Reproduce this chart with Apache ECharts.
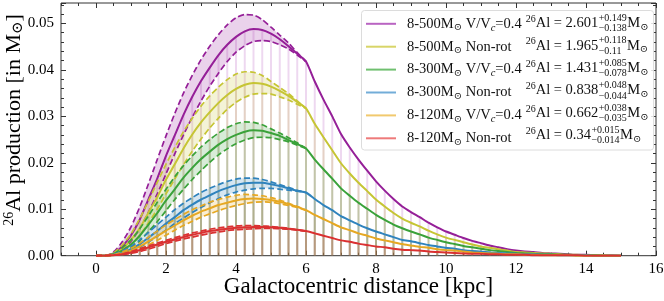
<!DOCTYPE html>
<html><head><meta charset="utf-8">
<script src="https://cdn.jsdelivr.net/npm/echarts@6/dist/echarts.min.js"></script>
<style>html,body{margin:0;padding:0;background:#fff}#c{width:664px;height:301px}</style>
</head><body><div id="c"></div>
<script>
// ---------- data ----------
const xs = [0,0.25,0.5,0.75,1,1.25,1.5,1.75,2,2.25,2.5,2.75,3,3.25,3.5,3.75,4,4.25,4.5,4.75,5,5.25,5.5,5.75,6,6.25,6.5,6.75,7,7.25,7.5,7.75,8,8.25,8.5,8.75,9,9.25,9.5,9.75,10,10.25,10.5,10.75,11,11.25,11.5,11.75,12,12.25,12.5,12.75,13,13.25,13.5,13.75,14,14.25,14.5,14.75,15];
const bandX = [0,0.25,0.5,0.75,1,1.25,1.5,1.75,2,2.25,2.5,2.75,3,3.25,3.5,3.75,4,4.25,4.5,4.75,5,5.25,5.5,5.75,6];

const names = ['8-500M⊙ V/Vc=0.4','8-500M⊙ Non-rot','8-300M⊙ V/Vc=0.4','8-300M⊙ Non-rot','8-120M⊙ V/Vc=0.4','8-120M⊙ Non-rot'];
const totals = ['2.601','1.965','1.431','0.838','0.662','0.34'];
const errPlus = ['+0.149','+0.118','+0.085','+0.048','+0.038','+0.015'];
const errMinus = ['−0.138','−0.11','−0.078','−0.044','−0.035','−0.014'];

const m500rot = [0,0,0.0005,0.002,0.0044,0.0078,0.0122,0.0166,0.0215,0.0259,0.0303,0.0342,0.0376,0.0405,0.0432,0.0454,0.0471,0.0483,0.0488,0.0486,0.0478,0.0466,0.0451,0.0435,0.0418,
 0.0375,0.0336,0.0300,0.0262,0.0233,0.0207,0.0183,0.0160,0.0140,0.0122,0.0106,0.0094,0.0083,0.0071,0.0061,0.0052,0.0045,0.0038,0.0032,0.0027,0.0022,0.0018,0.0014,0.0011,0.0009,0.0008,0.0006,0.0005,0.0004,0.0003,0.0002,0.0002,0.0001,0.0001,0.0001,0.0000];
const m500rotHi = [0,0,0.0008,0.003,0.0062,0.0105,0.0155,0.0207,0.0258,0.0306,0.035,0.0388,0.0422,0.0451,0.0476,0.0497,0.0512,0.0519,0.0518,0.0508,0.0492,0.0475,0.0458,0.0437,0.0418];
const m500rotLo = [0,0,0.0003,0.0013,0.0031,0.0058,0.0094,0.0133,0.0176,0.0219,0.026,0.0298,0.0333,0.0365,0.0393,0.0418,0.0438,0.0452,0.0461,0.0463,0.0461,0.0454,0.0445,0.0432,0.0418];

const m500non = [0,0,0.0004,0.0015,0.0034,0.0059,0.0093,0.0126,0.0164,0.0197,0.0231,0.0261,0.0287,0.0309,0.0329,0.0346,0.0359,0.0368,0.0372,0.0370,0.0364,0.0355,0.0344,0.0331,0.0317,
 0.0284,0.0255,0.0227,0.0199,0.0177,0.0157,0.0139,0.0121,0.0106,0.0092,0.008,0.0071,0.0063,0.0054,0.0046,0.0039,0.0034,0.0029,0.0024,0.002,0.0017,0.0014,0.0011,0.0008,0.0007,0.0006,0.0005,0.0004,0.0003,0.0002,0.0002,0.0001,0.0001,0.0001,0.0000,0.0000];
const m500nonHi = [0,0,0.0006,0.0023,0.0047,0.008,0.0118,0.0158,0.0197,0.0233,0.0267,0.0296,0.0322,0.0344,0.0363,0.0379,0.0391,0.0396,0.0395,0.0388,0.0375,0.0362,0.0349,0.0333,0.0317];
const m500nonLo = [0,0,0.0002,0.001,0.0023,0.0044,0.0071,0.01,0.0133,0.0165,0.0196,0.0225,0.0251,0.0275,0.0296,0.0315,0.033,0.0341,0.0348,0.0349,0.0348,0.0342,0.0335,0.0326,0.0317];

const m300rot = [0,0,0.0003,0.0011,0.0024,0.0043,0.0067,0.0092,0.0119,0.0143,0.0168,0.0189,0.0208,0.0224,0.0239,0.0251,0.026,0.0267,0.027,0.0269,0.0264,0.0258,0.0249,0.024,0.0231,
 0.0207,0.0186,0.0166,0.0145,0.0129,0.0114,0.0101,0.0088,0.0077,0.0067,0.0059,0.0052,0.0046,0.0039,0.0034,0.0029,0.0025,0.0021,0.0018,0.0015,0.0012,0.001,0.0008,0.0006,0.0005,0.0004,0.0003,0.0003,0.0002,0.0002,0.0001,0.0001,0.0001,0,0,0];
const m300rotHi = [0,0,0.0004,0.0017,0.0034,0.0058,0.0086,0.0115,0.0143,0.017,0.0194,0.0215,0.0234,0.025,0.0264,0.0276,0.0284,0.0288,0.0287,0.0282,0.0273,0.0264,0.0254,0.0243,0.0231];
const m300rotLo = [0,0,0.0002,0.0007,0.0017,0.0032,0.0052,0.0073,0.0097,0.0121,0.0143,0.0164,0.0183,0.0201,0.0217,0.023,0.0241,0.0249,0.0254,0.0255,0.0254,0.025,0.0245,0.0238,0.0231];

const m300non = [0,0,0.0002,0.0006,0.0014,0.0025,0.0039,0.0053,0.0069,0.0083,0.0098,0.011,0.0121,0.013,0.0139,0.0146,0.0152,0.0156,0.0157,0.0157,0.0154,0.015,0.0145,0.014,0.0136,
 0.0122,0.0109,0.0098,0.0085,0.0076,0.0067,0.0059,0.0052,0.0046,0.004,0.0034,0.0031,0.0027,0.0023,0.002,0.0017,0.0015,0.0012,0.001,0.0009,0.0007,0.0006,0.0005,0.0004,0.0003,0.0003,0.0002,0.0002,0.0001,0.0001,0.0001,0.0001,0,0,0,0];
const m300nonHi = [0,0,0.0003,0.001,0.002,0.0034,0.005,0.0067,0.0083,0.0099,0.0113,0.0125,0.0136,0.0145,0.0153,0.016,0.0165,0.0167,0.0167,0.0164,0.0159,0.0153,0.0147,0.0141,0.0136];
const m300nonLo = [0,0,0.0001,0.0004,0.001,0.0018,0.0029,0.0042,0.0055,0.0069,0.0081,0.0093,0.0104,0.0114,0.0123,0.0131,0.0137,0.0141,0.0144,0.0145,0.0145,0.0143,0.0141,0.0139,0.0136];

const m120rot = [0,0,0.0001,0.0005,0.0011,0.002,0.0031,0.0042,0.0054,0.0065,0.0076,0.0086,0.0095,0.0102,0.0109,0.0114,0.0119,0.0122,0.0123,0.0122,0.012,0.0116,0.0111,0.0105,0.0098,
 0.0088,0.0079,0.007,0.0061,0.0055,0.0048,0.0043,0.0037,0.0033,0.0029,0.0025,0.0022,0.0019,0.0017,0.0014,0.0012,0.0011,0.0009,0.0007,0.0006,0.0005,0.0004,0.0003,0.0003,0.0002,0.0002,0.0001,0.0001,0.0001,0.0001,0,0,0,0,0,0];
const m120rotHi = [0,0,0.0002,0.0008,0.0016,0.0027,0.004,0.0053,0.0066,0.0078,0.0089,0.0099,0.0107,0.0115,0.0121,0.0126,0.013,0.0132,0.0131,0.0129,0.0125,0.012,0.0113,0.0106,0.0098];
const m120rotLo = [0,0,0.0001,0.0003,0.0008,0.0014,0.0023,0.0033,0.0044,0.0055,0.0065,0.0074,0.0083,0.009,0.0097,0.0103,0.0108,0.0112,0.0115,0.0116,0.0115,0.0112,0.0108,0.0104,0.0098];

const m120non = [0,0,0.0001,0.0003,0.0007,0.0012,0.0018,0.0024,0.003,0.0035,0.004,0.0045,0.0049,0.0053,0.0056,0.0058,0.006,0.0061,0.0062,0.0062,0.0061,0.006,0.0058,0.0056,0.0053,
 0.0048,0.0043,0.0038,0.0033,0.003,0.0026,0.0023,0.002,0.0018,0.0015,0.0013,0.0012,0.0011,0.0009,0.0008,0.0007,0.0006,0.0005,0.0004,0.0004,0.0003,0.0003,0.0002,0.0002,0.0002,0.0001,0.0001,0.0001,0.0001,0.0001,0.0001,0,0,0,0,0];
const m120nonHi = [0,0,0.0001,0.0004,0.0009,0.0015,0.0021,0.0027,0.0033,0.0039,0.0044,0.0049,0.0053,0.0057,0.006,0.0062,0.0064,0.0065,0.0065,0.0064,0.0063,0.0061,0.0059,0.0056,0.0053];
const m120nonLo = [0,0,0.0001,0.0002,0.0005,0.0009,0.0014,0.002,0.0026,0.0031,0.0036,0.004,0.0044,0.0048,0.0051,0.0054,0.0056,0.0057,0.0058,0.0059,0.0059,0.0058,0.0057,0.0055,0.0053];

const xMajor = [0,2,4,6,8,10,12,14,16];

// ---------- styling ----------
const SERIF = "'Liberation Serif','DejaVu Serif',serif";
const lineCol  = ['#951f98','#c6c534','#3aa23a','#2f83bd','#e6a822','#da3131'];
const legCol   = ['#b964c2','#d8d568','#70c070','#72add8','#f1c96e','#ee7a7a'];
const stemCol  = ['rgba(170,60,180,0.20)','rgba(190,180,40,0.22)','rgba(60,150,60,0.20)','rgba(40,120,180,0.18)','rgba(220,150,30,0.20)','rgba(210,50,50,0.18)'];
const bandCol  = ['rgba(150,30,155,0.20)','rgba(200,195,50,0.20)','rgba(58,160,58,0.20)','rgba(47,131,189,0.20)','rgba(230,168,34,0.20)','rgba(218,49,49,0.20)'];

const solid = [m500rot,m500non,m300rot,m300non,m120rot,m120non];
const hi = [m500rotHi,m500nonHi,m300rotHi,m300nonHi,m120rotHi,m120nonHi];
const lo = [m500rotLo,m500nonLo,m300rotLo,m300nonLo,m120rotLo,m120nonLo];

const pair = (X, Y) => X.map((x, i) => [x, Y[i]]);

const series = [];
for (let s = 0; s < 6; s++) {
  series.push({
    type: 'custom', silent: true, clip: true,
    data: pair(xs, solid[s]),
    renderItem: (params, api) => {
      const a = api.coord([api.value(0), 0]);
      const b = api.coord([api.value(0), api.value(1)]);
      return {type: 'line', shape: {x1: a[0], y1: a[1], x2: b[0], y2: b[1]},
              style: {stroke: stemCol[s], lineWidth: 2}};
    }
  });
  series.push({
    type: 'custom', silent: true, clip: true,
    data: [[0, 0]],
    renderItem: (params, api) => {
      const pts = [];
      for (let i = 0; i < bandX.length; i++) pts.push(api.coord([bandX[i], hi[s][i]]));
      for (let i = bandX.length - 1; i >= 0; i--) pts.push(api.coord([bandX[i], lo[s][i]]));
      return {type: 'polygon', shape: {points: pts, smooth: 0}, style: {fill: bandCol[s]}};
    }
  });
  [hi[s], lo[s]].forEach(arr => series.push({
    type: 'line', data: pair(bandX, arr), showSymbol: false, symbol: 'none', smooth: 0.25,
    silent: true, lineStyle: {color: lineCol[s], width: 1.7, type: [6, 3]}
  }));
  series.push({
    type: 'line', name: names[s], data: pair(xs, solid[s]), showSymbol: false, symbol: 'none',
    smooth: 0.2, silent: true, color: lineCol[s], lineStyle: {color: lineCol[s], width: 2}
  });
}

const axisCol = '#333';
const fmtY = v => v.toFixed(2);
const xBase = {type: 'value', min: -1, max: 16, splitLine: {show: false}, axisLine: {show: false, onZero: false}};
const option = {
  animation: false,
  grid: {left: 61, right: 8, top: 3, bottom: 45.3, containLabel: false, outerBoundsMode: 'none',
         show: true, borderColor: axisCol, borderWidth: 1, backgroundColor: 'transparent'},
  xAxis: [
    Object.assign({}, xBase, {position: 'bottom',
      axisTick: {show: true, inside: true, length: 5, customValues: xMajor, lineStyle: {color: axisCol}},
      axisLabel: {customValues: xMajor, margin: 6, color: '#000', fontFamily: SERIF, fontSize: 15},
      name: 'Galactocentric distance [kpc]', nameLocation: 'middle', nameGap: 20, nameMoveOverlap: false,
      nameTextStyle: {fontFamily: SERIF, fontSize: 23, color: '#000', verticalAlign: 'top'}}),
    Object.assign({}, xBase, {position: 'bottom', interval: 0.5,
      axisTick: {show: true, inside: true, length: 3, lineStyle: {color: axisCol}}, axisLabel: {show: false}}),
    Object.assign({}, xBase, {position: 'top',
      axisTick: {show: true, inside: true, length: 5, customValues: xMajor, lineStyle: {color: axisCol}},
      axisLabel: {show: false}}),
    Object.assign({}, xBase, {position: 'top', interval: 0.5,
      axisTick: {show: true, inside: true, length: 3, lineStyle: {color: axisCol}}, axisLabel: {show: false}})
  ],
  yAxis: [
    {type: 'value', min: 0, max: 0.0544, interval: 0.01, position: 'left', splitLine: {show: false},
     axisLine: {show: false, onZero: false},
     axisTick: {show: true, inside: true, length: 5, lineStyle: {color: axisCol}},
     minorTick: {show: true, splitNumber: 5, length: 3, lineStyle: {color: axisCol}},
     axisLabel: {formatter: fmtY, showMaxLabel: false, margin: 7, color: '#000', fontFamily: SERIF, fontSize: 15}},
    {type: 'value', min: 0, max: 0.0544, interval: 0.01, position: 'right', splitLine: {show: false},
     axisLine: {show: false, onZero: false},
     axisTick: {show: true, inside: true, length: 5, lineStyle: {color: axisCol}},
     minorTick: {show: true, splitNumber: 5, length: 3, lineStyle: {color: axisCol}},
     axisLabel: {show: false}}
  ],
  legend: {
    orient: 'vertical', left: 366, top: 14.3, padding: 0, itemGap: 4.4, itemWidth: 30, itemHeight: 2,
    icon: 'rect', z: 60, selectedMode: false,
    data: names.map((n, i) => ({name: n, itemStyle: {color: legCol[i]}})),
    formatter: n => n.replace('M⊙', 'M{s|⊙}').replace('Vc', 'V{c|c}'),
    textStyle: {fontFamily: SERIF, fontSize: 14.5, color: '#111', lineHeight: 18, padding: [0, 0, 0, 6],
      rich: {s: {fontFamily: SERIF, fontSize: 10, lineHeight: 10, padding: [8, 0, 0, 0], color: '#111'},
             c: {fontFamily: SERIF, fontSize: 10.5, fontStyle: 'italic', lineHeight: 10, padding: [8, 0, 0, 0], color: '#111'}}}
  },
  series: series
};

// legend right-hand texts, box and y-axis title
const ctx = document.createElement('canvas').getContext('2d');
const tw = (t, sz) => { ctx.font = sz + 'px ' + SERIF; return ctx.measureText(t).width; };
const rowY = [23.3, 45.7, 68.1, 90.5, 112.9, 135.3];
const nameW = Math.max(...names.map(n => tw(n.replace('⊙', '').replace('c=', '=') , 14.5) + tw('⊙', 10) + tw('c', 10.5)));
const x0 = Math.max(521.5, 366 + 30 + 5 + 6 + nameW + 4);
const gEls = [];
let rightMost = 0;
const T = (text, x, y, sz) => gEls.push({type: 'text', x: x, y: y, z: 61, silent: true,
  style: {text: text, font: sz + 'px ' + SERIF, fontSize: sz, fontFamily: SERIF, fill: '#111',
          textAlign: 'left', align: 'left', textVerticalAlign: 'middle', verticalAlign: 'middle'}});
for (let r = 0; r < 6; r++) {
  const y = rowY[r];
  let x = x0;
  T('26', x, y - 4, 10); x += tw('26', 10);
  const main = 'Al = ' + totals[r];
  T(main, x, y, 14.5); x += tw(main, 14.5) + 0.5;
  T(errPlus[r], x, y - 5, 10);
  T(errMinus[r], x, y + 5.5, 10);
  x += Math.max(tw(errPlus[r], 10), tw(errMinus[r], 10)) + 0.5;
  T('M', x, y, 14.5); x += tw('M', 14.5);
  T('⊙', x, y + 4, 10); x += tw('⊙', 10);
  rightMost = Math.max(rightMost, x);
}
const boxR = Math.max(645, rightMost + 5);
gEls.unshift({type: 'rect', z: 59, silent: true, shape: {x: 361.5, y: 10.5, width: boxR - 361.5, height: 139.5, r: 3},
  style: {fill: 'rgba(255,255,255,0.85)', stroke: '#dcdcdc', lineWidth: 1}});

// y-axis title (rotated, with super/subscript)
gEls.push({type: 'text', x: 14, y: 120, rotation: Math.PI / 2, z: 61, silent: true,
  style: {text: '{sup|26}{n|Al production [in M}{sub|⊙}{n|]}',
    fill: '#000', align: 'center', textAlign: 'center', verticalAlign: 'middle', textVerticalAlign: 'middle',
    font: '22px ' + SERIF,
    rich: {n: {fontFamily: SERIF, fontSize: 22, lineHeight: 24, fill: '#000', color: '#000'},
           sup: {fontFamily: SERIF, fontSize: 14, lineHeight: 14, padding: [0, 0, 9, 0], fill: '#000', color: '#000'},
           sub: {fontFamily: SERIF, fontSize: 15, lineHeight: 15, padding: [9, 0, 0, 0], fill: '#000', color: '#000'}}}});
option.graphic = {elements: gEls};

const chart = echarts.init(document.getElementById('c'), null, {renderer: 'canvas'});
chart.setOption(option);
</script></body></html>
